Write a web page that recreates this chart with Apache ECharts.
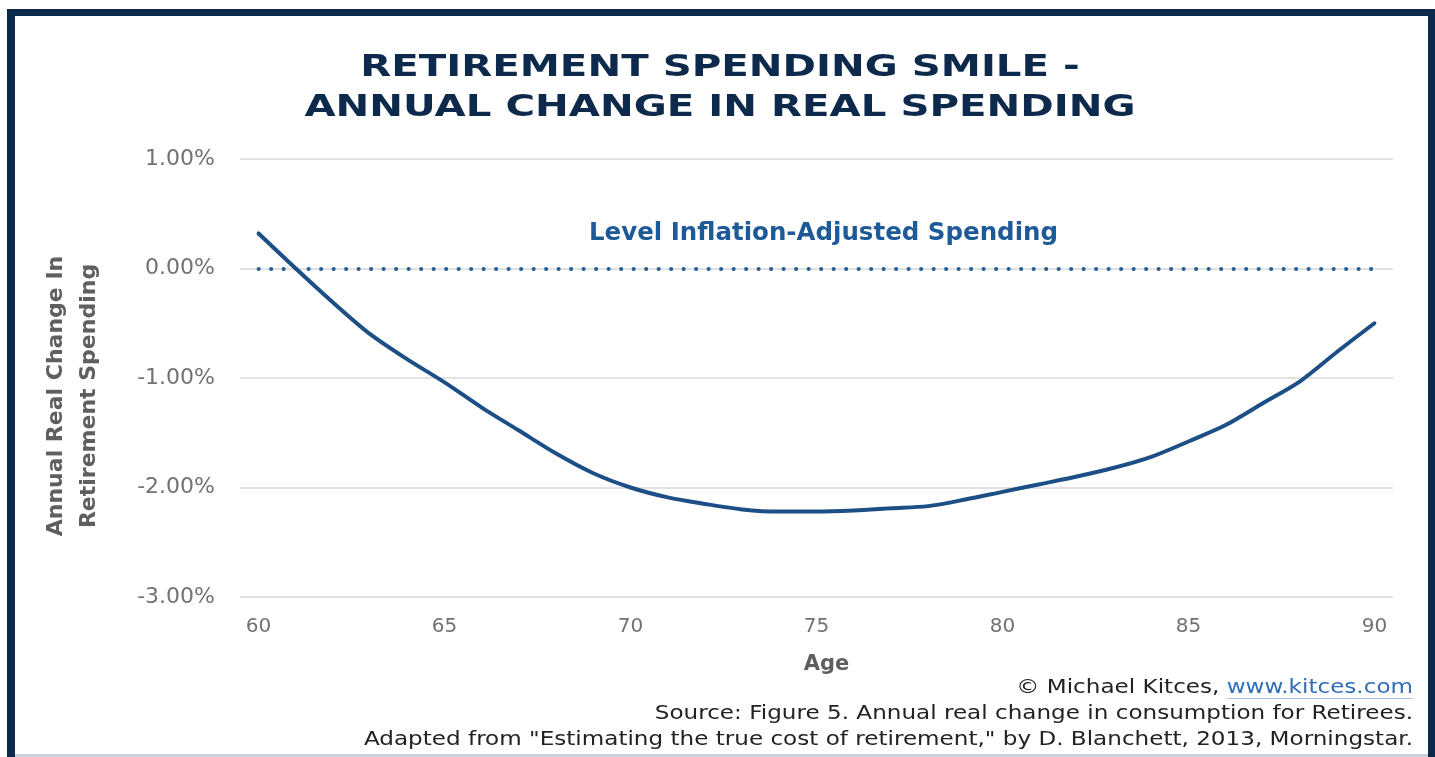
<!DOCTYPE html>
<html>
<head>
<meta charset="utf-8">
<script src="https://cdn.jsdelivr.net/npm/echarts@6/dist/echarts.min.js"></script>
<style>
html,body{margin:0;padding:0;background:#fff;}
#chart{width:1435px;height:757px;}
</style>
</head>
<body>
<div id="chart"></div>
<script>
// ---- data ----
var ages = ['60','61','62','63','64','65','66','67','68','69','70','71','72','73','74','75','76','77','78','79','80','81','82','83','84','85','86','87','88','89','90'];
var realChange = [0.32, 0.00, -0.31, -0.60, -0.83, -1.04, -1.27, -1.48, -1.69, -1.87, -2.00, -2.09, -2.15, -2.20, -2.22, -2.22, -2.21, -2.19, -2.17, -2.11, -2.04, -1.97, -1.90, -1.82, -1.72, -1.58, -1.43, -1.23, -1.03, -0.76, -0.50];
var levelValue = 0;
var levelLabel = 'Level Inflation-Adjusted Spending';
var yTicks = {min: -3, max: 1, interval: 1};
var titleLines = ['RETIREMENT SPENDING SMILE -', 'ANNUAL CHANGE IN REAL SPENDING'];
var yAxisTitle = ['Annual Real Change In', 'Retirement Spending'];
var xAxisTitle = 'Age';
var credit = '\u00a9 Michael Kitces, ';
var creditLink = 'www.kitces.com';
var sourceLines = ['Source: Figure 5. Annual real change in consumption for Retirees.',
  'Adapted from "Estimating the true cost of retirement," by D. Blanchett, 2013, Morningstar.'];

var navy = '#0d2a4c';
var lineBlue = '#1d4f87';
var dotBlue = '#285c96';
var font = 'DejaVu Sans';
var footScale = 1.215;

var chart = echarts.init(document.getElementById('chart'));
chart.setOption({
  backgroundColor: '#ffffff',
  animation: false,
  grid: {left: 240, right: 42, top: 159, bottom: 160, containLabel: false},
  xAxis: {
    type: 'category',
    data: ages,
    boundaryGap: true,
    axisLine: {show: false},
    axisTick: {show: false},
    axisLabel: {interval: 4, color: '#727272', fontFamily: font, fontSize: 20, margin: 20},
    name: xAxisTitle,
    nameLocation: 'middle',
    nameGap: 57,
    nameTextStyle: {color: '#5f5f5f', fontFamily: font, fontWeight: 'bold', fontSize: 21, padding: [0, 0, 0, 20]}
  },
  yAxis: {
    type: 'value',
    min: yTicks.min, max: yTicks.max, interval: yTicks.interval,
    axisLine: {show: false},
    axisTick: {show: false},
    axisLabel: {color: '#727272', fontFamily: font, fontSize: 22, margin: 25,
      formatter: function (v) { return v.toFixed(2) + '%'; }},
    splitLine: {lineStyle: {color: '#e2e2e2', width: 2}}
  },
  series: [{
    type: 'line',
    data: realChange,
    smooth: 0.3,
    symbol: 'none',
    lineStyle: {color: lineBlue, width: 4, cap: 'round'},
    z: 3,
    markLine: {
      silent: true,
      symbol: ['none', 'none'],
      lineStyle: {color: dotBlue, width: 4, type: [0.1, 12.4], cap: 'round'},
      label: {show: true, position: 'middle', formatter: levelLabel, color: '#1f5a98',
        fontFamily: font, fontWeight: 'bold', fontSize: 24.5, distance: 22, padding: [0, 0, 0, 14]},
      data: [[{coord: [ages[0], levelValue]}, {coord: [ages[ages.length - 1], levelValue]}]],
      z: 2
    }
  }],
  graphic: [
    // frame
    {type: 'rect', shape: {x: 7, y: 9, width: 1428, height: 7}, style: {fill: navy}},
    {type: 'rect', shape: {x: 7, y: 9, width: 8, height: 748}, style: {fill: navy}},
    {type: 'rect', shape: {x: 1428, y: 9, width: 7, height: 748}, style: {fill: navy}},
    {type: 'rect', shape: {x: 15, y: 754, width: 1413, height: 3}, style: {fill: '#c9d1db'}},
    // title
    {type: 'text', x: 720, y: 68, scaleX: 1.3,
      style: {text: titleLines[0], fill: navy, font: 'bold 31px "DejaVu Sans"', textAlign: 'center', textVerticalAlign: 'middle'}},
    {type: 'text', x: 720, y: 108, scaleX: 1.3,
      style: {text: titleLines[1], fill: navy, font: 'bold 31px "DejaVu Sans"', textAlign: 'center', textVerticalAlign: 'middle'}},
    // y axis title
    {type: 'text', x: 56, y: 396, rotation: Math.PI / 2,
      style: {text: yAxisTitle[0], fill: '#5f5f5f', font: 'bold 22px "DejaVu Sans"', textAlign: 'center', textVerticalAlign: 'middle'}},
    {type: 'text', x: 89, y: 396, rotation: Math.PI / 2,
      style: {text: yAxisTitle[1], fill: '#5f5f5f', font: 'bold 22px "DejaVu Sans"', textAlign: 'center', textVerticalAlign: 'middle'}},
    // footer
    {type: 'text', x: 1413, y: 688, scaleX: footScale,
      style: {text: '{a|' + credit + '}{b|' + creditLink + '}', textAlign: 'right', textVerticalAlign: 'middle',
        rich: {a: {fill: '#222', font: '19px "DejaVu Sans"'}, b: {fill: '#2f6fb8', font: '19px "DejaVu Sans"'}}}},
    {type: 'rect', shape: {x: 1227, y: 698, width: 186, height: 1}, style: {fill: '#a9c2e0'}},
    {type: 'text', x: 1413, y: 714, scaleX: footScale,
      style: {text: sourceLines[0], fill: '#222', font: '19px "DejaVu Sans"', textAlign: 'right', textVerticalAlign: 'middle'}},
    {type: 'text', x: 1413, y: 740, scaleX: footScale,
      style: {text: sourceLines[1], fill: '#222', font: '19px "DejaVu Sans"', textAlign: 'right', textVerticalAlign: 'middle'}}
  ]
});
</script>
</body>
</html>
